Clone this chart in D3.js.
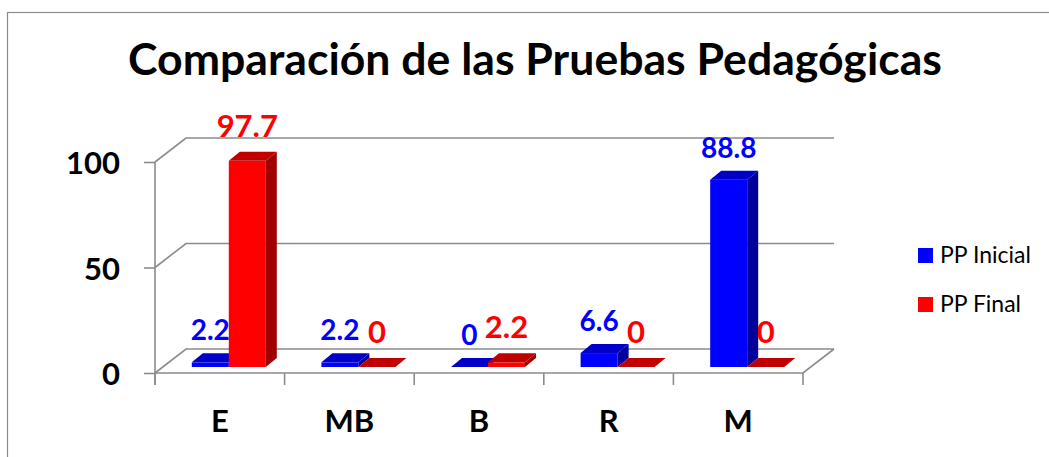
<!DOCTYPE html>
<html>
<head>
<meta charset="utf-8">
<script src="https://cdn.jsdelivr.net/npm/d3@7"></script>
<style>
  body { margin: 0; background: #fff; }
  svg { display: block; font-family: Lato, "Open Sans", sans-serif; }
</style>
</head>
<body>
<div id="chart"></div>
<script>
const categories = ["E", "MB", "B", "R", "M"];
const seriesNames = ["PP Inicial", "PP Final"];
const inicial = [2.2, 2.2, 0, 6.6, 88.8];
const final = [97.7, 0, 2.2, 0, 0];
const yTicks = [0, 50, 100];
const titleText = "Comparación de las Pruebas Pedagógicas";

(function () {
  const W = 1049, H = 457;
  const colors = [
    { front: "#0000ff", top: "#0000c8", side: "#00009a", label: "#0000ff", size: 28, off: 28 },
    { front: "#ff0000", top: "#c00000", side: "#a00000", label: "#ff0000", size: 31, off: 30 }
  ];
  const grid = "#8c8c8c";

  // plot geometry (front plane)
  const x0 = 155, x1 = 803;
  const DX = 31, DY = -24;      // back wall offset
  const BX = 9, BY = -6;        // bar front offset from floor edge
  const DDX = 11, DDY = -9;     // bar depth

  const svg = d3.select("#chart").append("svg")
    .attr("width", W).attr("height", H);

  // outer border
  svg.append("rect")
    .attr("x", 7.5).attr("y", 12.5)
    .attr("width", W + 20).attr("height", H + 20)
    .attr("fill", "none").attr("stroke", grid).attr("stroke-width", 1.2);

  const x = d3.scaleBand().domain(categories).range([x0, x1]);
  const y = d3.scaleLinear().domain([0, 100]).range([373, 162]);
  const bw = x.bandwidth() * 0.2855;

  // gridlines on wall
  yTicks.forEach((t) => {
    svg.append("path")
      .attr("d", `M${x0},${y(t)}L${x0 + DX},${y(t) + DY}L${x1 + DX},${y(t) + DY}`)
      .attr("fill", "none").attr("stroke", grid).attr("stroke-width", 1.6);
  });

  // floor
  svg.append("path")
    .attr("d", `M${x0},${y(0)}L${x1},${y(0)}L${x1 + DX},${y(0) + DY}`)
    .attr("fill", "none").attr("stroke", grid).attr("stroke-width", 1.6);

  // y axis
  const yAxis = svg.append("g")
    .attr("transform", `translate(${x0},0)`)
    .call(d3.axisLeft(y).tickValues(yTicks).tickSize(11).tickPadding(24));
  yAxis.select(".domain").remove();
  yAxis.selectAll(".tick line").attr("stroke", grid).attr("stroke-width", 1.6);
  yAxis.selectAll(".tick text")
    .attr("dy", "0.38em")
    .attr("font-family", "Lato, sans-serif")
    .attr("font-size", 31).attr("font-weight", "bold").attr("fill", "#000");
  svg.append("line")
    .attr("x1", x0).attr("x2", x0)
    .attr("y1", y(100)).attr("y2", y(0) + 12)
    .attr("stroke", grid).attr("stroke-width", 1.6);

  // x axis: boundary ticks + labels
  const bounds = categories.map((c) => x(c)).concat([x1]);
  svg.selectAll(".xtick").data(bounds).join("line")
    .attr("class", "xtick")
    .attr("x1", (d) => d).attr("x2", (d) => d)
    .attr("y1", y(0)).attr("y2", y(0) + 12)
    .attr("stroke", grid).attr("stroke-width", 1.6);

  const xAxis = svg.append("g")
    .attr("transform", `translate(0,${y(0)})`)
    .call(d3.axisBottom(x).tickSize(0));
  xAxis.select(".domain").remove();
  xAxis.selectAll(".tick text")
    .attr("y", 59).attr("dy", 0)
    .attr("font-family", "Lato, sans-serif")
    .attr("font-size", 31).attr("font-weight", "bold").attr("fill", "#000");

  // bars
  const series = [inicial, final];
  const groupOff = (x.bandwidth() - 2 * bw) / 2;
  categories.forEach((c, i) => {
    series.forEach((vals, s) => {
      const v = vals[i];
      const col = colors[s];
      const bx = x(c) + groupOff + s * bw + BX;
      const yb = y(0) + BY;
      const yt = y(v) + BY;
      const g = svg.append("g");
      if (yb - yt > 0.1) {
        g.append("rect")
          .attr("x", bx).attr("y", yt)
          .attr("width", bw).attr("height", yb - yt)
          .attr("fill", col.front);
        g.append("polygon")
          .attr("points", [[bx + bw, yt], [bx + bw + DDX, yt + DDY], [bx + bw + DDX, yb + DDY], [bx + bw, yb]].join(" "))
          .attr("fill", col.side);
      }
      g.append("polygon")
        .attr("points", [[bx, yt], [bx + bw, yt], [bx + bw + DDX, yt + DDY], [bx + DDX, yt + DDY]].join(" "))
        .attr("fill", col.top);
    });
  });

  // value labels
  categories.forEach((c, i) => {
    series.forEach((vals, s) => {
      const v = vals[i];
      const col = colors[s];
      const bx = x(c) + groupOff + s * bw + BX;
      svg.append("text")
        .attr("x", bx + bw / 2)
        .attr("y", y(v) - col.off)
        .attr("text-anchor", "middle")
        .attr("font-size", col.size)
        .attr("font-weight", "bold")
        .attr("fill", col.label)
        .text(v);
    });
  });

  // title
  const title = svg.append("text")
    .attr("x", 535).attr("y", 75)
    .attr("text-anchor", "middle")
    .attr("font-size", 38).attr("font-weight", "bold")
    .attr("fill", "#000")
    .text(titleText);
  const tw = title.node().getComputedTextLength();
  title.attr("font-size", 38 * 814 / tw);

  // legend
  const lg = svg.append("g").attr("transform", "translate(918,248)");
  seriesNames.forEach((n, s) => {
    lg.append("rect")
      .attr("x", 0).attr("y", s * 49)
      .attr("width", 15).attr("height", 15)
      .attr("fill", colors[s].front);
    lg.append("text")
      .attr("x", 22).attr("y", s * 49 + 15)
      .attr("font-size", 23).attr("fill", "#000")
      .text(n);
  });
})();
</script>
</body>
</html>
